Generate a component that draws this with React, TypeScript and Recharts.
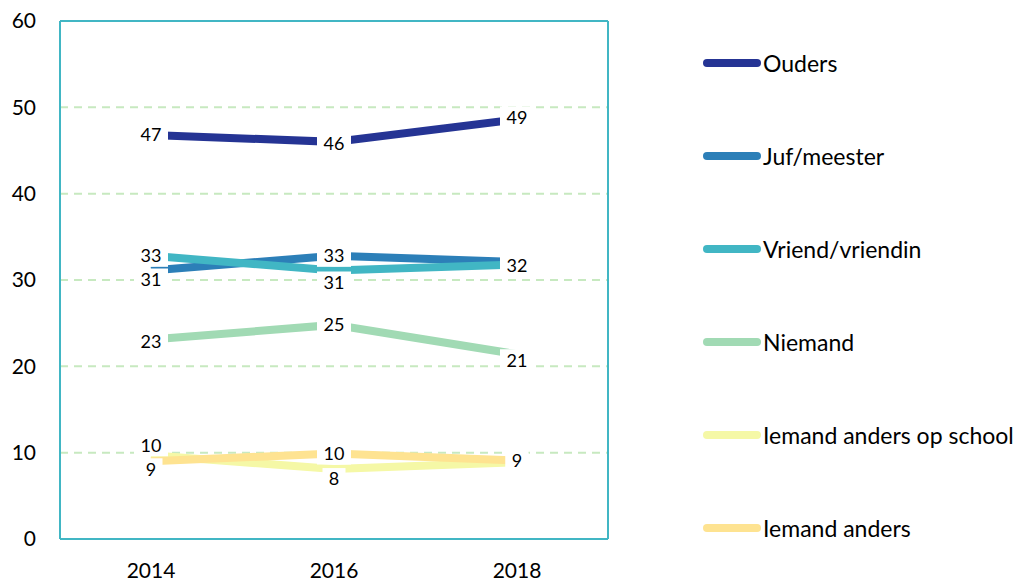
import { CartesianGrid, LabelList, Line, LineChart, XAxis, YAxis } from "recharts";

const years = ["2014", "2016", "2018"];
const ouders = [46.8, 46.0, 48.6];
const jufMeester = [31.1, 32.8, 32.1];
const vriendVriendin = [32.8, 31.1, 31.8];
const niemand = [23.1, 24.8, 21.4];
const iemandAndersOpSchool = [9.7, 8.1, 8.9];
const iemandAnders = [9.0, 9.9, 9.1];
const yTicks = [0, 10, 20, 30, 40, 50, 60];

const FONT = "Lato, 'Open Sans', sans-serif";

const series = [
	{ key: "ouders", name: "Ouders", values: ouders, color: "#253494", labelDy: [0, 2, -2] },
	{ key: "juf", name: "Juf/meester", values: jufMeester, color: "#2c7fb8", labelDy: [9, 0, 4] },
	{ key: "vriend", name: "Vriend/vriendin", values: vriendVriendin, color: "#41b6c4", labelDy: [0, 12, 1] },
	{ key: "niemand", name: "Niemand", values: niemand, color: "#a1dab4", labelDy: [2, 0, 6] },
	{ key: "school", name: "Iemand anders op school", values: iemandAndersOpSchool, color: "#f5f8a6", labelDy: [-10, 10, 2] },
	{ key: "anders", name: "Iemand anders", values: iemandAnders, color: "#fee391", labelDy: [8, 0, 0] },
];

const data = years.map((year, i) => {
	const row: Record<string, string | number> = { year };
	series.forEach((s) => {
		row[s.key] = s.values[i];
	});
	return row;
});

function makeLabel(dys: number[]) {
	return (props: any) => {
		const { x, y, value, index } = props;
		const text = String(Math.round(Number(value)));
		const w = text.length * 11 + 12;
		const cy = y + (dys[index] ?? 0);
		return (
			<g>
				<rect x={x - w / 2} y={cy - 11} width={w} height={22} fill="#fff" />
				<text
					x={x}
					y={cy}
					dy="0.35em"
					textAnchor="middle"
					fontSize={18}
					fontFamily={FONT}
					fill="#000"
				>
					{text}
				</text>
			</g>
		);
	};
}

function LegendBox() {
	return (
		<div
			style={{
				position: "absolute",
				left: 695,
				top: 8,
				fontFamily: FONT,
				fontSize: 23,
				color: "#000",
			}}
		>
			{series.map((s) => (
				<div
					key={s.key}
					style={{ height: 93, display: "flex", alignItems: "center" }}
				>
					<span
						style={{
							display: "inline-block",
							width: 58,
							height: 8,
							borderRadius: 4,
							background: s.color,
							marginRight: 2,
						}}
					/>
					<span style={{ lineHeight: "24px" }}>{s.name}</span>
				</div>
			))}
		</div>
	);
}

export default function App() {
	const tick = { fontSize: 21, fontFamily: FONT, fill: "#000" };
	return (
		<div style={{ position: "relative", width: 1014, height: 574 }}>
			<LineChart
				width={1014}
				height={574}
				data={data}
				margin={{ top: 12, right: 413, left: 0, bottom: 4 }}
			>
				<CartesianGrid
					horizontal
					vertical={false}
					stroke="#c7e9c0"
					strokeWidth={2}
					strokeDasharray="8 6"
					horizontalValues={[10, 20, 30, 40, 50]}
				/>
				<XAxis
					dataKey="year"
					padding={{ left: 91, right: 91 }}
					axisLine={{ stroke: "#41b6c4", strokeWidth: 2 }}
					tickLine={false}
					tick={tick}
					tickMargin={18}
					height={39}
				/>
				<XAxis
					xAxisId="top"
					orientation="top"
					dataKey="year"
					axisLine={{ stroke: "#41b6c4", strokeWidth: 2 }}
					tick={false}
					tickLine={false}
					height={1}
				/>
				<YAxis
					domain={[0, 60]}
					ticks={yTicks}
					axisLine={{ stroke: "#41b6c4", strokeWidth: 2 }}
					tickLine={false}
					tick={tick}
					tickMargin={18}
					width={52}
				/>
				<YAxis
					yAxisId="right"
					orientation="right"
					domain={[0, 60]}
					axisLine={{ stroke: "#41b6c4", strokeWidth: 2 }}
					tick={false}
					tickLine={false}
					width={1}
				/>
				{series.map((s) => (
					<Line
						key={s.key}
						dataKey={s.key}
						name={s.name}
						stroke={s.color}
						strokeWidth={8}
						dot={false}
						activeDot={false}
						type="linear"
						isAnimationActive={false}
					/>
				))}
				{series.map((s) => (
					<Line
						key={s.key + "-labels"}
						dataKey={s.key}
						stroke="none"
						dot={false}
						activeDot={false}
						legendType="none"
						isAnimationActive={false}
					>
						<LabelList dataKey={s.key} content={makeLabel(s.labelDy)} />
					</Line>
				))}
			</LineChart>
			<LegendBox />
		</div>
	);
}
